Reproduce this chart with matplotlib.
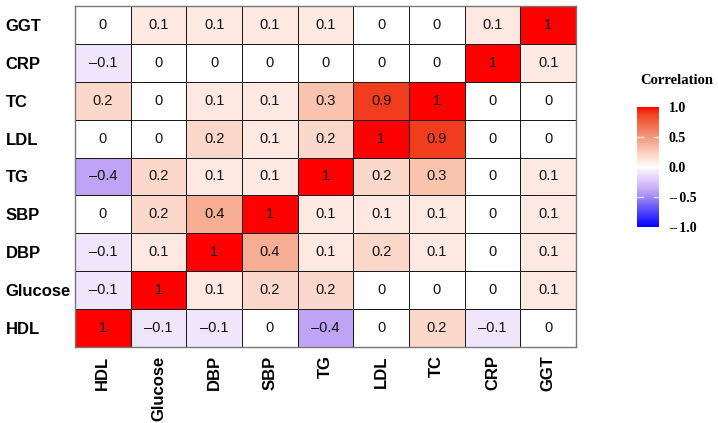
import numpy as np
import matplotlib
matplotlib.use('Agg')
import matplotlib.pyplot as plt
from matplotlib.colors import LinearSegmentedColormap

#===============================================================================
rows = ['GGT', 'CRP', 'TC', 'LDL', 'TG', 'SBP', 'DBP', 'Glucose', 'HDL']
cols = ['HDL', 'Glucose', 'DBP', 'SBP', 'TG', 'LDL', 'TC', 'CRP', 'GGT']

r_ggt     = [ 0.0,  0.1,  0.1, 0.1,  0.1, 0.0, 0.0,  0.1, 1.0]
r_crp     = [-0.1,  0.0,  0.0, 0.0,  0.0, 0.0, 0.0,  1.0, 0.1]
r_tc      = [ 0.2,  0.0,  0.1, 0.1,  0.3, 0.9, 1.0,  0.0, 0.0]
r_ldl     = [ 0.0,  0.0,  0.2, 0.1,  0.2, 1.0, 0.9,  0.0, 0.0]
r_tg      = [-0.4,  0.2,  0.1, 0.1,  1.0, 0.2, 0.3,  0.0, 0.1]
r_sbp     = [ 0.0,  0.2,  0.4, 1.0,  0.1, 0.1, 0.1,  0.0, 0.1]
r_dbp     = [-0.1,  0.1,  1.0, 0.4,  0.1, 0.2, 0.1,  0.0, 0.1]
r_glucose = [-0.1,  1.0,  0.1, 0.2,  0.2, 0.0, 0.0,  0.0, 0.1]
r_hdl     = [ 1.0, -0.1, -0.1, 0.0, -0.4, 0.0, 0.2, -0.1, 0.0]

cbar_ticks  = [1.0, 0.5, 0.0, -0.5, -1.0]
cbar_labels = ['1.0', '0.5', '0.0', '\u2013 0.5', '\u2013 1.0']
#===============================================================================
M = np.array([r_ggt, r_crp, r_tc, r_ldl, r_tg, r_sbp, r_dbp, r_glucose, r_hdl])

nodes = [(0.0, '#0000ff'), (0.3, '#c0a5f5'), (0.45, '#f0e5fc'), (0.5, '#ffffff'),
         (0.55, '#fde9e1'), (0.6, '#fcd8ca'), (0.65, '#f9c3ae'), (0.7, '#f5ae95'),
         (0.95, '#f0401f'), (1.0, '#ff0000')]
cmap = LinearSegmentedColormap.from_list('corr', nodes)

fig = plt.figure(figsize=(7.18, 4.23), dpi=100, facecolor='w')
ax = fig.add_axes([75/718, 1-347/423, 501/718, 341/423])

nr, nc = M.shape
mesh = ax.pcolormesh(np.arange(nc+1), np.arange(nr+1), M[::-1], cmap=cmap,
                     vmin=-1, vmax=1, edgecolors='#1a1a1a', linewidth=0.7,
                     antialiased=False)
for i in range(nr):
    for j in range(nc):
        v = M[i, j]
        if v == 0:
            s = '0'
        elif v == 1:
            s = '1'
        else:
            s = ('%.1f' % abs(v))
            if v < 0:
                s = '\u2013' + s
        ax.text(j+0.5, nr-i-0.5, s, ha='center', va='center',
                fontsize=10.5, family='Liberation Sans', color='#111111')

ax.set_xlim(0, nc) ; ax.set_ylim(0, nr)
ax.set_xticks(np.arange(nc)+0.5)
ax.set_xticklabels(cols, rotation=90, fontsize=12, fontweight='bold',
                   family='Liberation Sans', va='top')
ax.set_yticks(np.arange(nr)+0.5)
ax.set_yticklabels(rows[::-1], fontsize=12, fontweight='bold',
                   family='Liberation Sans', ha='left')
ax.tick_params(length=0)
ax.tick_params(axis='y', pad=50)
ax.tick_params(axis='x', pad=6)
for sp in ax.spines.values():
    sp.set_color('#777777') ; sp.set_linewidth(1.0)

# colorbar
cax = fig.add_axes([637/718, 1-227/423, 22/718, 120/423])
cb = fig.colorbar(mesh, cax=cax, ticks=cbar_ticks)
cb.ax.set_yticklabels(cbar_labels, family='Liberation Serif', fontweight='bold',
                      fontsize=10)
cb.outline.set_visible(False)
cb.ax.tick_params(length=0, pad=7)
for t in [0.5, -0.5]:
    cax.plot([0, 0.25], [t, t], color='w', lw=1, alpha=0.7)
    cax.plot([0.75, 1], [t, t], color='w', lw=1, alpha=0.7)
fig.text(677/718, 1-80/423, 'Correlation', ha='center', va='center',
         family='Liberation Serif', fontweight='bold', fontsize=10.5)

plt.savefig('out.png', dpi=100)
#===============================================================================
